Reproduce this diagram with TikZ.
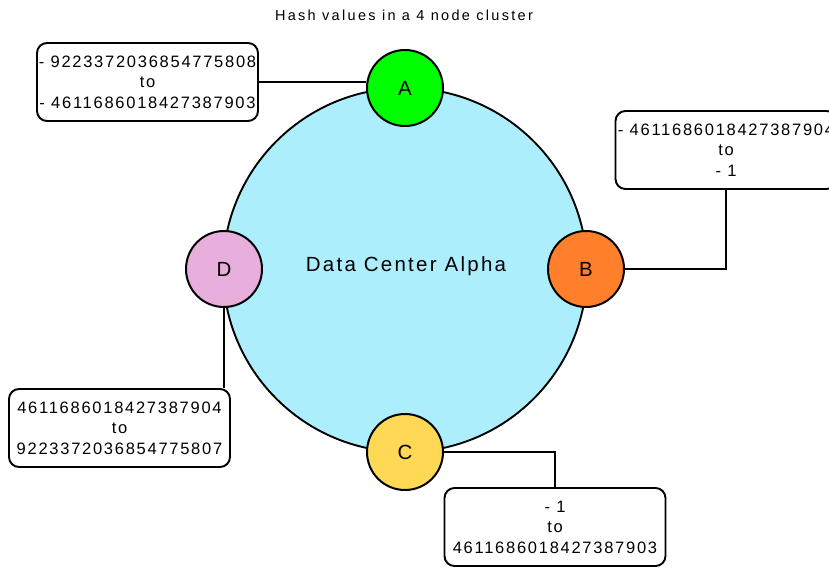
\documentclass[tikz,border=0pt]{standalone}
\usepackage{fontspec}
\setmainfont{Liberation Sans}
\newfontfamily\boxfont[LetterSpace=10.5]{Liberation Sans}
\newfontfamily\titlefont[LetterSpace=16]{Liberation Sans}
\newfontfamily\bigfont[LetterSpace=11]{Liberation Sans}
\definecolor{dcfill}{HTML}{ADEEFD}
\definecolor{nA}{HTML}{00FF00}
\definecolor{nB}{HTML}{FF7F2A}
\definecolor{nC}{HTML}{FFD955}
\definecolor{nD}{HTML}{E8AEDC}
\tikzset{
  rangebox/.style={draw, rounded corners=10pt, line width=1.9pt, fill=white,
    minimum width=221pt, minimum height=78pt, inner sep=0pt, align=center,
    font=\boxfont\fontsize{16.5}{20.5}\selectfont},
  hashnode/.style={circle, draw, line width=2pt, minimum size=76pt, inner sep=0pt,
    font=\bigfont\fontsize{20.5}{22}\selectfont},
  conn/.style={line width=1.9pt}
}
\begin{document}
\begin{tikzpicture}[x=1pt,y=-1pt]
\useasboundingbox (0,0) rectangle (829,568);
\node[font=\titlefont\fontsize{14.5}{16}\selectfont] (title) at (404,15) {Hash values in a 4 node cluster};
\node[circle, draw, line width=1.9pt, fill=dcfill, minimum size=364pt, inner sep=0pt] (dc) at (405,270) {};
\node[font=\bigfont\fontsize{20.5}{22}\selectfont] (dclabel) at (406,266) {Data Center Alpha};
\node[rangebox] (bA) at (147.5,82) {- 9223372036854775808\\to\\- 4611686018427387903};
\node[rangebox] (bB) at (726,150) {- 4611686018427387904\\to\\- 1};
\node[rangebox] (bC) at (555,527) {- 1\\to\\4611686018427387903};
\node[rangebox] (bD) at (119.5,428) {4611686018427387904\\to\\9223372036854775807};
\node[hashnode, fill=nA] (A) at (405,88) {A};
\node[hashnode, fill=nB] (B) at (586,269) {B};
\node[hashnode, fill=nC] (C) at (405,452) {C};
\node[hashnode, fill=nD] (D) at (224,269) {D};
\draw[conn] (bA.east) -- (bA.east -| A.west);
\draw[conn] (bB.south) |- (B.east);
\draw[conn] (C.east) -| (bC.north);
\draw[conn] (D.south) -- (D.south |- bD.north);
\end{tikzpicture}
\end{document}
